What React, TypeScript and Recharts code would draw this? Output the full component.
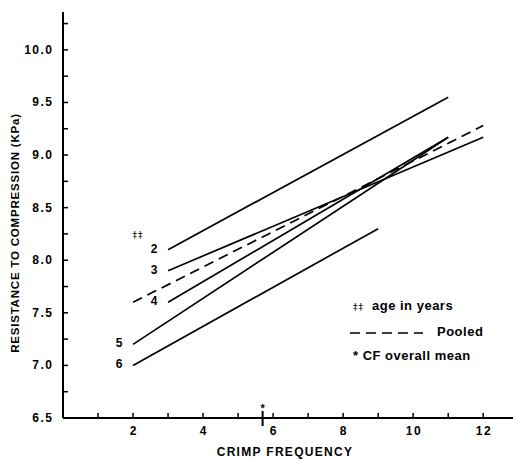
import { LineChart, Line, XAxis, YAxis, ReferenceDot, Label } from 'recharts';

// crimp frequency vs resistance to compression, one regression line per age
const age2 = [{ cf: 3, rc: 8.1 }, { cf: 11, rc: 9.55 }];
const age3 = [{ cf: 3, rc: 7.9 }, { cf: 12, rc: 9.17 }];
const age4 = [{ cf: 3, rc: 7.6 }, { cf: 11, rc: 9.17 }];
const age5 = [{ cf: 2, rc: 7.2 }, { cf: 11, rc: 9.17 }];
const age6 = [{ cf: 2, rc: 7.0 }, { cf: 9, rc: 8.3 }];
const pooled = [{ cf: 2, rc: 7.6 }, { cf: 12, rc: 9.28 }];
const meanCF = 5.7;

const xTicks = [1, 2, 3, 4, 5, 6, 7, 8, 9, 10, 11, 12];
const xLabeled = [2, 4, 6, 8, 10, 12];
const yTicks = [6.5, 6.75, 7, 7.25, 7.5, 7.75, 8, 8.25, 8.5, 8.75, 9, 9.25, 9.5, 9.75, 10, 10.25];
const yLabeled = [6.5, 7, 7.5, 8, 8.5, 9, 9.5, 10];

const FONT = '"Liberation Sans", Arial, sans-serif';
const SYM = '"DejaVu Sans", sans-serif';

const series = [
  { name: '2', data: age2 },
  { name: '3', data: age3 },
  { name: '4', data: age4 },
  { name: '5', data: age5 },
  { name: '6', data: age6 },
];

function XTick({ x, y, payload }: any) {
  const v = payload.value;
  return (
    <g>
      <line x1={x} y1={y} x2={x} y2={y - 5} stroke="#000" strokeWidth={1.5} />
      {xLabeled.includes(v) && (
        <text x={x + 0.75} y={y + 17} textAnchor="middle" fontFamily={FONT} fontWeight="bold" fontSize={12} letterSpacing={1.5} fill="#000">
          {v}
        </text>
      )}
    </g>
  );
}

function YTick({ x, y, payload }: any) {
  const v = payload.value;
  return (
    <g>
      <line x1={x} y1={y} x2={x + 5} y2={y} stroke="#000" strokeWidth={1.5} />
      {yLabeled.includes(v) && (
        <text x={x - 9.5} y={y + 4} textAnchor="end" fontFamily={FONT} fontWeight="bold" fontSize={12} letterSpacing={1.5} fill="#000">
          {v.toFixed(1)}
        </text>
      )}
    </g>
  );
}

const ageLabel = (name: string) => (p: any) => {
  if (p.index !== 0) return <g key={p.index} />;
  return (
    <g key={p.index}>
      {name === '2' && (
        <text x={p.x - 30} y={p.y - 12} textAnchor="middle" fontFamily={SYM} fontSize={9} letterSpacing={1} fill="#000">
          ‡‡
        </text>
      )}
      <text x={p.x - 14} y={p.y + 3} textAnchor="middle" fontFamily={FONT} fontWeight="bold" fontSize={12} fill="#000">
        {name}
      </text>
    </g>
  );
};

const MeanMark = (p: any) => (
  <g>
    <line x1={p.cx} y1={p.cy - 7} x2={p.cx} y2={p.cy + 8} stroke="#000" strokeWidth={2} />
    <text x={p.cx} y={p.cy - 6} textAnchor="middle" fontFamily={FONT} fontWeight="bold" fontSize={11} fill="#000">
      *
    </text>
  </g>
);

const legendText = { fontFamily: FONT, fontWeight: 'bold' as const, fontSize: 13, letterSpacing: 0.5, color: '#000' };

export default function App() {
  return (
    <div style={{ position: 'absolute', left: 0, top: 0, width: 513, height: 460, background: '#fff' }}>
      <LineChart width={513} height={460} margin={{ top: 12, right: 0, left: 0, bottom: 0 }}>
        <XAxis
          type="number"
          dataKey="cf"
          domain={[0, 12.85]}
          ticks={xTicks}
          allowDataOverflow
          height={42}
          tickSize={0}
          tickMargin={0}
          tickLine={false}
          axisLine={{ stroke: '#000', strokeWidth: 2 }}
          tick={<XTick />}
        >
          <Label
            content={() => (
              <text x={285} y={456} textAnchor="middle" fontFamily={FONT} fontWeight="bold" fontSize={12} letterSpacing={1.3} fill="#000">
                CRIMP FREQUENCY
              </text>
            )}
          />
        </XAxis>
        <YAxis
          type="number"
          dataKey="rc"
          domain={[6.5, 10.36]}
          ticks={yTicks}
          allowDataOverflow
          width={63}
          tickSize={0}
          tickMargin={0}
          tickLine={false}
          axisLine={{ stroke: '#000', strokeWidth: 2 }}
          tick={<YTick />}
        >
          <Label
            content={() => (
              <text
                transform="translate(19 233) rotate(-90)"
                textAnchor="middle"
                fontFamily={FONT}
                fontWeight="bold"
                fontSize={11.5}
                letterSpacing={0.8}
                fill="#000"
              >
                RESISTANCE TO COMPRESSION (KPa)
              </text>
            )}
          />
        </YAxis>
        {series.map((s) => (
          <Line
            key={s.name}
            data={s.data}
            dataKey="rc"
            type="linear"
            stroke="#000"
            strokeWidth={1.7}
            dot={false}
            label={ageLabel(s.name)}
            isAnimationActive={false}
          />
        ))}
        <Line
          data={pooled}
          dataKey="rc"
          type="linear"
          stroke="#000"
          strokeWidth={1.7}
          strokeDasharray="10 6"
          dot={false}
          isAnimationActive={false}
        />
        <ReferenceDot x={meanCF} y={6.5} shape={MeanMark} />
      </LineChart>
      <div style={{ position: 'absolute', left: 353, top: 298, ...legendText }}>
        <span style={{ fontFamily: SYM, fontWeight: 'normal', fontSize: 9, letterSpacing: 1 }}>‡‡</span>
        <span style={{ marginLeft: 8 }}>age in years</span>
      </div>
      <svg style={{ position: 'absolute', left: 350, top: 328 }} width={75} height={10}>
        <line x1={0} y1={5} x2={73} y2={5} stroke="#000" strokeWidth={1.7} strokeDasharray="10 6" />
      </svg>
      <div style={{ position: 'absolute', left: 437, top: 324, ...legendText }}>Pooled</div>
      <div style={{ position: 'absolute', left: 353, top: 348, ...legendText }}>* CF overall mean</div>
    </div>
  );
}
